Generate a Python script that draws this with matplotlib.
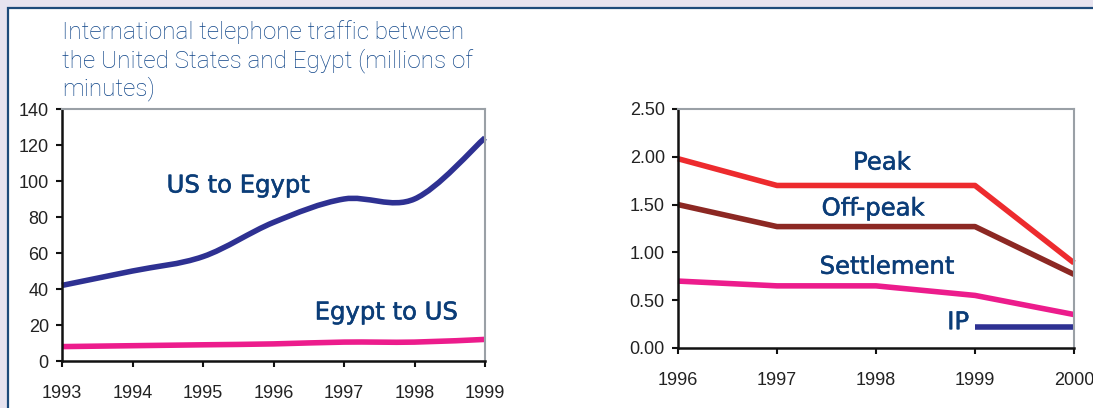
import numpy as np
import matplotlib
matplotlib.use("Agg")
import matplotlib.pyplot as plt
import matplotlib.patheffects as pe
from matplotlib.path import Path
from matplotlib.patches import PathPatch, Rectangle

# left chart: traffic, millions of minutes
years_traffic = [1993, 1994, 1995, 1996, 1997, 1998, 1999]
us_to_egypt = [42, 50, 58, 77, 90, 90, 124]
egypt_to_us = [8, 8.5, 9, 9.5, 10.5, 10.5, 12]

# right chart: rates
years_rate = [1996, 1997, 1998, 1999, 2000]
peak = [1.98, 1.70, 1.70, 1.70, 0.89]
off_peak = [1.50, 1.27, 1.27, 1.27, 0.77]
settlement = [0.70, 0.65, 0.65, 0.55, 0.35]
years_ip = [1999, 2000]
ip = [0.22, 0.22]

NAVY = "#2e3192"
PINK = "#ec1c8c"
RED = "#ed2b2e"
BROWN = "#8c2823"
LABEL = "#0b3d78"
TITLE = "#0e4488"
W, H = 1093, 408


def smooth_path(x, y):
    # catmull-rom style smoothing, like a spreadsheet "smoothed line"
    pts = np.column_stack([x, y]).astype(float)
    ext = np.vstack([pts[0], pts, pts[-1]])
    verts = [pts[0]]
    codes = [Path.MOVETO]
    for i in range(len(pts) - 1):
        p0, p1, p2, p3 = ext[i], ext[i + 1], ext[i + 2], ext[i + 3]
        verts += [p1 + (p2 - p0) / 6, p2 - (p3 - p1) / 6, p2]
        codes += [Path.CURVE4] * 3
    return Path(verts, codes)


def style_axes(ax):
    for s in ["top", "right"]:
        ax.spines[s].set_color("#9aa0a6")
        ax.spines[s].set_linewidth(1.5)
    for s in ["left", "bottom"]:
        ax.spines[s].set_color("#111111")
        ax.spines[s].set_linewidth(1.8)
    ax.tick_params(axis="both", direction="out", length=4.5, width=1.5,
                   colors="#111111", labelsize=13, labelcolor="#222222")
    ax.tick_params(axis="x", pad=13)
    ax.tick_params(axis="y", pad=5)


def label(ax, x, y, s):
    ax.text(x, y, s, color=LABEL, fontsize=17.5, family="DejaVu Sans",
            ha="center", va="center",
            path_effects=[pe.withStroke(linewidth=0.4, foreground=LABEL)])


plt.rcParams["font.family"] = ["Liberation Sans", "DejaVu Sans"]
fig = plt.figure(figsize=(W / 100, H / 100), dpi=100)
fig.patch.set_facecolor("#e7e3ef")
fig.patches.append(Rectangle((8 / W, -0.1), 1.2, 1 - 8 / H + 0.1,
                             transform=fig.transFigure, facecolor="white",
                             edgecolor="#1d4a7a", linewidth=1.6, zorder=-5))

# left chart
ax1 = fig.add_axes([62 / W, 1 - 361 / H, (485 - 62) / W, (361 - 109) / H])
ax1.set_facecolor("white")
ax1.set_xlim(1993, 1999)
ax1.set_ylim(0, 140)
ax1.set_xticks(years_traffic)
ax1.set_yticks(range(0, 141, 20))
style_axes(ax1)
for vals, col in [(us_to_egypt, NAVY), (egypt_to_us, PINK)]:
    ax1.add_patch(PathPatch(smooth_path(years_traffic, vals), fill=False,
                            edgecolor=col, lw=4, capstyle="butt", clip_on=False))
label(ax1, 1995.5, 97.5, "US to Egypt")
label(ax1, 1997.6, 27, "Egypt to US")

fig.text(62 / W, 1 - 20 / H,
         "International telephone traffic between\nthe United States and Egypt (millions of\nminutes)",
         color=TITLE, fontsize=17.5, family="Roboto", weight="light",
         ha="left", va="top", linespacing=1.21, zorder=5)

# right chart
ax2 = fig.add_axes([678 / W, 1 - 348 / H, (1074 - 678) / W, (348 - 109) / H])
ax2.set_facecolor("white")
ax2.set_xlim(1996, 2000)
ax2.set_ylim(0, 2.5)
ax2.set_xticks(years_rate)
ax2.set_yticks(np.arange(0, 2.51, 0.5))
ax2.yaxis.set_major_formatter(matplotlib.ticker.FormatStrFormatter("%.2f"))
style_axes(ax2)
for vals, col in [(peak, RED), (off_peak, BROWN), (settlement, PINK)]:
    ax2.plot(years_rate, vals, color=col, lw=4, clip_on=False,
             solid_capstyle="butt")
ax2.plot(years_ip, ip, color=NAVY, lw=4, clip_on=False, solid_capstyle="butt")

label(ax2, 1998.06, 1.94, "Peak")
label(ax2, 1997.97, 1.46, "Off-peak")
label(ax2, 1998.11, 0.85, "Settlement")
label(ax2, 1998.83, 0.27, "IP")

fig.savefig("out.png", dpi=100, facecolor=fig.get_facecolor())
